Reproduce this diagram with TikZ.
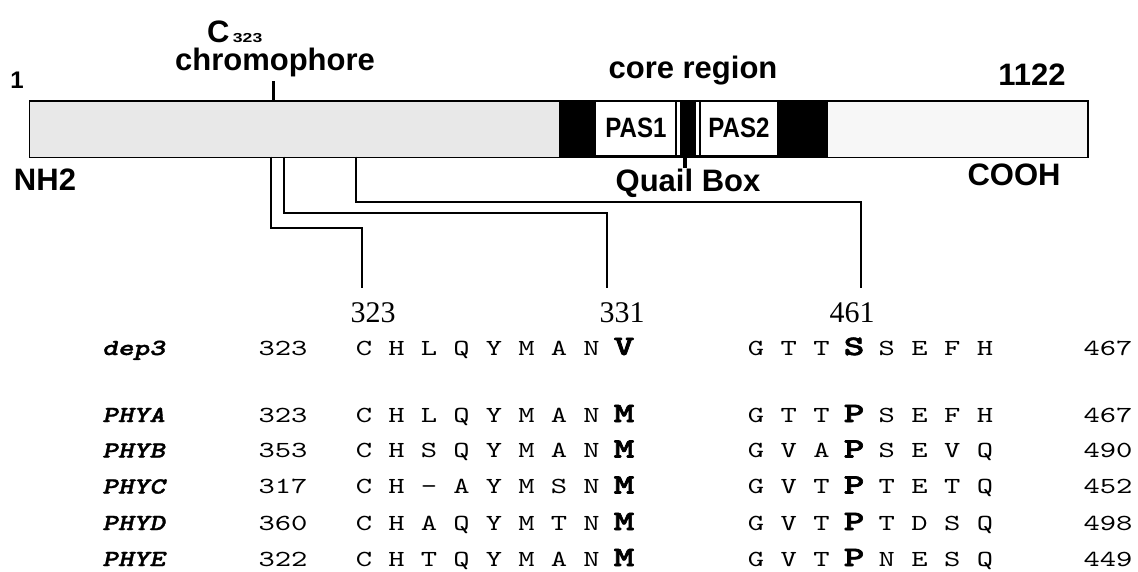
\documentclass[tikz,border=0pt]{standalone}
\usepackage{fontspec}
\setmainfont{Liberation Serif}
\newfontfamily\labfont{Liberation Sans}
\newfontfamily\seqfont{lmmono10-regular.otf}[FakeStretch=1.35]
\newfontfamily\seqboldfont{lmmonolt10-bold.otf}[FakeStretch=1.4,FakeBold=2.5]
\newfontfamily\namefont{lmmonolt10-boldoblique.otf}[FakeStretch=1.3,FakeBold=1.5]
\newcommand\seqrow[6]{%
  \node[nmtxt] (nm#2) at (102,#1) {#2};
  \node[numtxt] (ln#2) at (283,#1) {#3};
  \foreach \L [count=\i from 0] in {#4} {%
    \ifnum\i=8 \node[bres] (a#2\i) at ({364+32.5*\i},#1) {\L};%
    \else \node[res] (a#2\i) at ({364+32.5*\i},#1) {\L};\fi
  }%
  \foreach \L [count=\i from 0] in {#5} {%
    \ifnum\i=3 \node[bres] (b#2\i) at ({756+32.7*\i},#1) {\L};%
    \else \node[res] (b#2\i) at ({756+32.7*\i},#1) {\L};\fi
  }%
  \node[numtxt] (rn#2) at (1108,#1) {#6};
}
\begin{document}
\begin{tikzpicture}[x=1pt,y=-1pt,
  lab/.style={font={\labfont\bfseries\fontsize{31}{36}\selectfont}, inner sep=0pt, anchor=base},
  paslab/.style={font={\labfont\bfseries\fontsize{28}{32}\selectfont}, inner sep=0pt, anchor=base},
  subtxt/.style={font={\labfont\bfseries\fontsize{13}{14}\selectfont}, inner sep=0pt, anchor=base west},
  posnum/.style={font={\fontsize{30}{34}\selectfont}, inner sep=0pt, anchor=base},
  nmtxt/.style={font={\namefont\fontsize{23}{26}\selectfont}, inner sep=0pt, anchor=base west},
  numtxt/.style={font={\seqfont\fontsize{23}{26}\selectfont}, inner sep=0pt, anchor=base},
  res/.style={font={\seqfont\fontsize{23}{26}\selectfont}, inner sep=0pt, anchor=base},
  bres/.style={font={\seqboldfont\fontsize{28}{30}\selectfont}, inner sep=0pt, anchor=base},
  conn/.style={line width=2pt},
  tick/.style={line width=3pt}]
\useasboundingbox (0,0) rectangle (1138,571);
% domain bar
\fill[black!9] (28.5,100) rectangle (559,156.5);
\fill[black!3] (828,100) rectangle (1087,156.5);
\fill[black] (559,99.5) rectangle (828,156.5);
\fill[white] (596,100.5) rectangle (674.5,154.5);
\fill[white] (676.5,100.5) rectangle (679.5,154.5);
\fill[white] (695.5,100.5) rectangle (698.5,154.5);
\fill[white] (700.5,100.5) rectangle (777,154.5);
\node[draw, line width=1.5pt, minimum width=1058.5pt, minimum height=56.5pt, inner sep=0pt, anchor=north west] (bar) at (28.5,100) {};
% labels above/below
\node[lab, font={\labfont\bfseries\fontsize{24}{26}\selectfont}] (one) at (17,88) {1};
\node[lab] (NH) at (45,190) {NH2};
\node[lab] (COOH) at (1014,185) {COOH};
\node[lab] (end) at (1032,85) {1122};
\node[lab] (core) at (693,78) {core region};
\node[lab] (quail) at (688,191) {Quail Box};
\node[lab] (chrom) at (275,70) {chromophore};
\node[lab, anchor=base west] (C) at (207,42) {C};
\node[subtxt] (Csub) at ([xshift=3pt]C.base east) {\scalebox{1.35}[1]{323}};
\node[paslab] (pas1) at (636,137) {\scalebox{0.86}[1]{PAS1}};
\node[paslab] (pas2) at (739,137) {\scalebox{0.86}[1]{PAS2}};
% ticks
\coordinate (ct) at (273.5,81);
\coordinate (cb) at (273.5,100);
\draw[tick] (ct) -- (cb);
\coordinate (qt) at (684.5,156.5);
\coordinate (qb) at (684.5,168);
\draw[line width=4pt] (qt) -- (qb);
% connectors
\coordinate (s1) at (270.5,156.5);
\coordinate (s2) at (283.5,156.5);
\coordinate (s3) at (356,156.5);
\coordinate (e1) at (362,288);
\coordinate (e2) at (607,288);
\coordinate (e3) at (861,288);
\draw[conn] (s1) -- ++(0,71.5) -| (e1);
\draw[conn] (s2) -- ++(0,56.5) -| (e2);
\draw[conn] (s3) -- ++(0,45.5) -| (e3);
\node[posnum] (p323) at (373,322) {323};
\node[posnum] (p331) at (622,322) {331};
\node[posnum] (p461) at (852,322) {461};
% alignment
\seqrow{355}{dep3}{323}{C,H,L,Q,Y,M,A,N,V}{G,T,T,S,S,E,F,H}{467}
\seqrow{422}{PHYA}{323}{C,H,L,Q,Y,M,A,N,M}{G,T,T,P,S,E,F,H}{467}
\seqrow{457.5}{PHYB}{353}{C,H,S,Q,Y,M,A,N,M}{G,V,A,P,S,E,V,Q}{490}
\seqrow{493.5}{PHYC}{317}{C,H,-,A,Y,M,S,N,M}{G,V,T,P,T,E,T,Q}{452}
\seqrow{530}{PHYD}{360}{C,H,A,Q,Y,M,T,N,M}{G,V,T,P,T,D,S,Q}{498}
\seqrow{566}{PHYE}{322}{C,H,T,Q,Y,M,A,N,M}{G,V,T,P,N,E,S,Q}{449}
\end{tikzpicture}
\end{document}
